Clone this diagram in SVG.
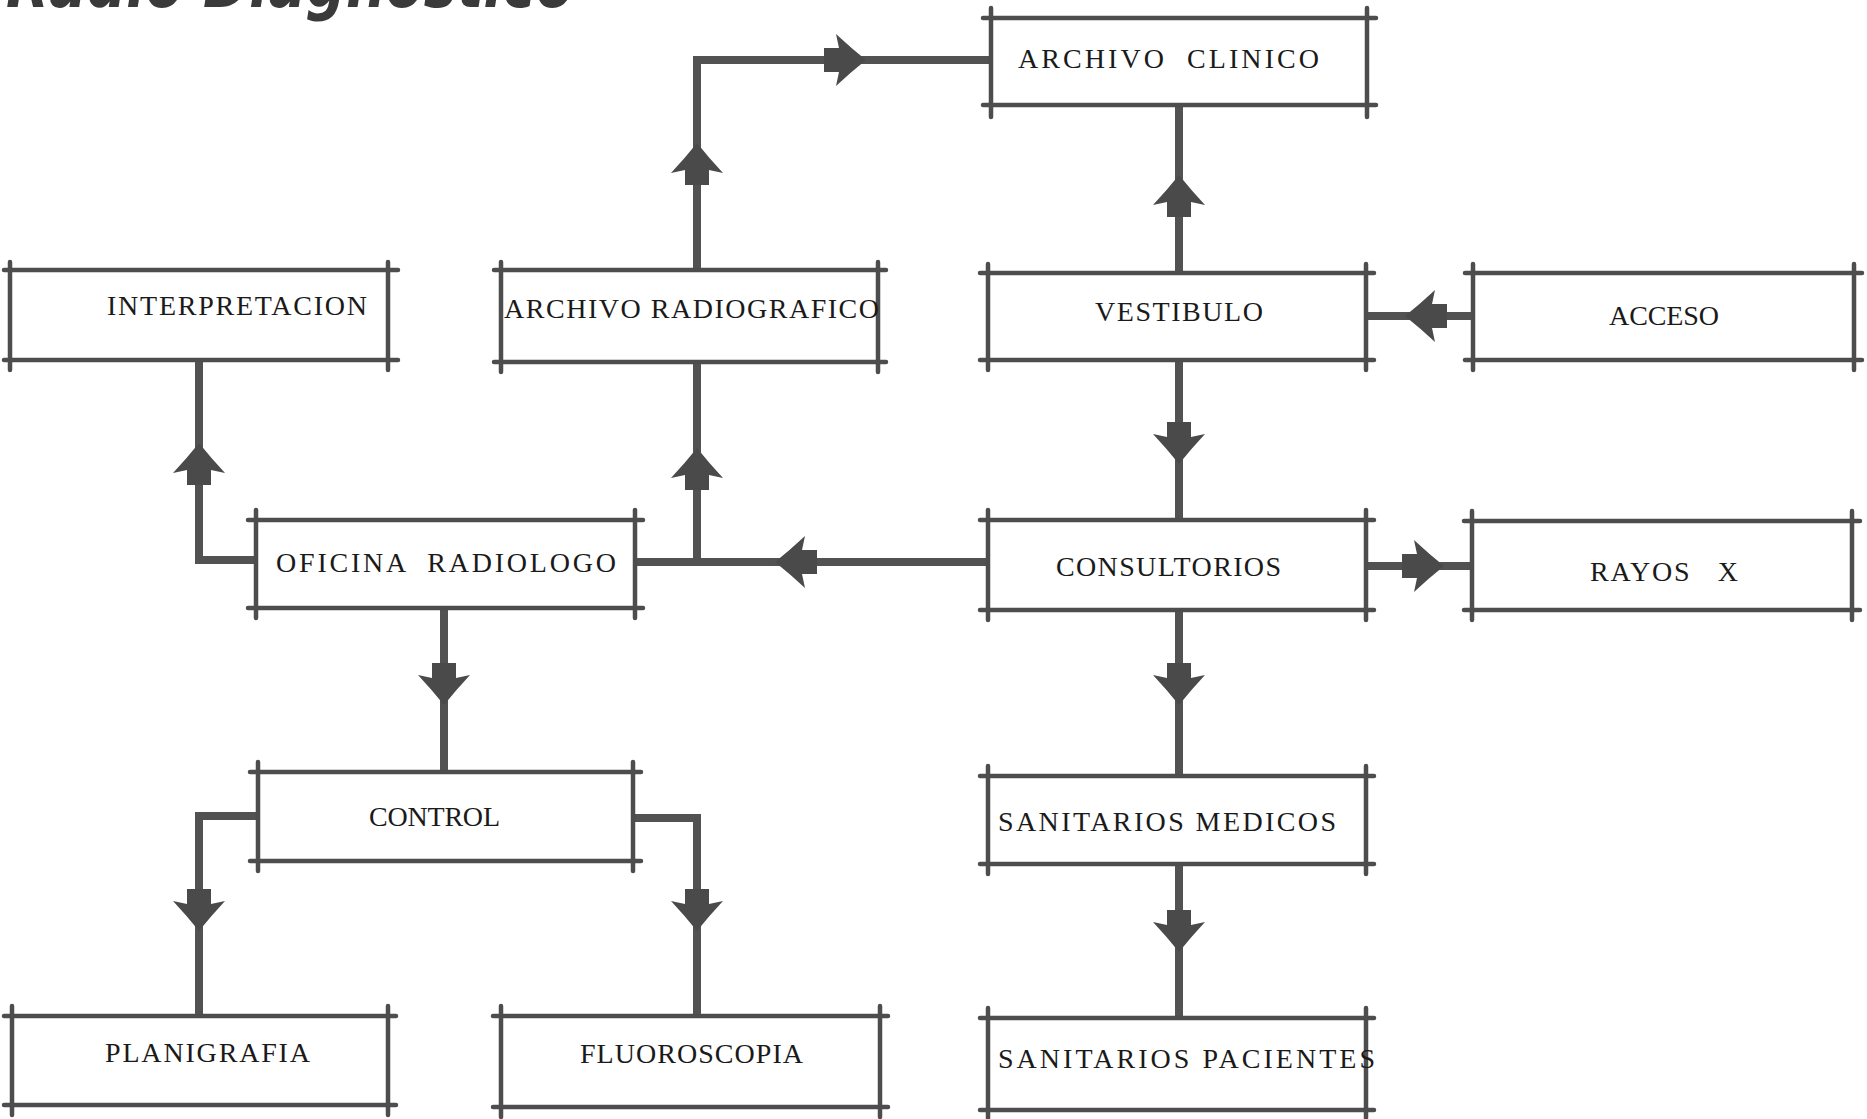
<svg xmlns="http://www.w3.org/2000/svg" xmlns:xlink="http://www.w3.org/1999/xlink" width="1867" height="1119" viewBox="0 0 1867 1119">
<style>
.bl{stroke:#4d4d4d;stroke-width:4.5;stroke-linecap:round;fill:none}
.cn{stroke:#525252;stroke-width:8;fill:none;stroke-linejoin:miter}
.lb{font-family:"Liberation Serif","Times New Roman",serif;font-size:28px;fill:#1a1a1a}
.ttl{font-family:"DejaVu Sans","Liberation Sans",sans-serif;font-size:70px;font-weight:bold;font-style:italic;fill:#3a3a3a}
</style>
<defs>
<path id="ah" d="M0,0 Q-12,15 -26,30 L-12,27 L-12,42 L12,42 L12,27 L26,30 Q12,15 0,0 Z" fill="#4a4a4a"/>
</defs>
<rect width="1867" height="1119" fill="#ffffff"/>
<text class="ttl" x="6" y="7" textLength="568" lengthAdjust="spacingAndGlyphs">Radio Diagnostico</text>

<g id="connectors">
<path class="cn" d="M256,560 H199 V360"/>
<path class="cn" d="M988,562 H635"/>
<path class="cn" d="M697,562 V362"/>
<path class="cn" d="M697,270 V60 H991"/>
<path class="cn" d="M1179,273 V105"/>
<path class="cn" d="M1473,316 H1366"/>
<path class="cn" d="M1179,360 V520"/>
<path class="cn" d="M1366,566 H1472"/>
<path class="cn" d="M1179,610 V776"/>
<path class="cn" d="M1179,864 V1018"/>
<path class="cn" d="M444,608 V772"/>
<path class="cn" d="M258,816 H199 V1016"/>
<path class="cn" d="M633,818 H697 V1016"/>
<use xlink:href="#ah" transform="translate(199,443)"/>
<use xlink:href="#ah" transform="translate(697,448)"/>
<use xlink:href="#ah" transform="translate(697,143)"/>
<use xlink:href="#ah" transform="translate(866,60) rotate(90)"/>
<use xlink:href="#ah" transform="translate(1179,175)"/>
<use xlink:href="#ah" transform="translate(1405,316) rotate(-90)"/>
<use xlink:href="#ah" transform="translate(1179,464) rotate(180)"/>
<use xlink:href="#ah" transform="translate(775,562) rotate(-90)"/>
<use xlink:href="#ah" transform="translate(1444,566) rotate(90)"/>
<use xlink:href="#ah" transform="translate(1179,705) rotate(180)"/>
<use xlink:href="#ah" transform="translate(1179,952) rotate(180)"/>
<use xlink:href="#ah" transform="translate(444,705) rotate(180)"/>
<use xlink:href="#ah" transform="translate(199,931) rotate(180)"/>
<use xlink:href="#ah" transform="translate(697,931) rotate(180)"/>
</g>

<g id="archivo-clinico">
<path class="bl" d="M983,18 H1376 M983,105 H1376 M991,8 V117 M1367,8 V117"/>
<text class="lb" x="1018" y="68" textLength="301" lengthAdjust="spacing" xml:space="preserve">ARCHIVO  CLINICO</text>
</g>
<g id="interpretacion">
<path class="bl" d="M4,270 H398 M4,360 H398 M10,262 V370 M388,262 V370"/>
<text class="lb" x="107" y="315" textLength="260" lengthAdjust="spacing">INTERPRETACION</text>
</g>
<g id="archivo-radiografico">
<path class="bl" d="M494,270 H886 M494,362 H886 M501,262 V372 M878,262 V372"/>
<text class="lb" x="504" y="318" textLength="375" lengthAdjust="spacing">ARCHIVO RADIOGRAFICO</text>
</g>
<g id="vestibulo">
<path class="bl" d="M980,273 H1374 M980,360 H1374 M988,264 V370 M1366,264 V370"/>
<text class="lb" x="1095" y="321" textLength="168" lengthAdjust="spacing">VESTIBULO</text>
</g>
<g id="acceso">
<path class="bl" d="M1465,273 H1862 M1465,360 H1862 M1473,264 V370 M1854,264 V370"/>
<text class="lb" x="1609" y="325" textLength="110" lengthAdjust="spacing">ACCESO</text>
</g>
<g id="oficina-radiologo">
<path class="bl" d="M248,520 H643 M248,608 H643 M256,510 V618 M635,510 V618"/>
<text class="lb" x="276" y="572" textLength="340" lengthAdjust="spacing" xml:space="preserve">OFICINA  RADIOLOGO</text>
</g>
<g id="consultorios">
<path class="bl" d="M980,520 H1374 M980,610 H1374 M988,510 V620 M1366,510 V620"/>
<text class="lb" x="1056" y="576" textLength="225" lengthAdjust="spacing">CONSULTORIOS</text>
</g>
<g id="rayos-x">
<path class="bl" d="M1464,521 H1860 M1464,610 H1860 M1472,511 V620 M1852,511 V620"/>
<text class="lb" x="1590" y="581" textLength="148" lengthAdjust="spacing" xml:space="preserve">RAYOS   X</text>
</g>
<g id="control">
<path class="bl" d="M250,772 H641 M250,861 H641 M258,762 V871 M633,762 V871"/>
<text class="lb" x="369" y="826" textLength="131" lengthAdjust="spacing">CONTROL</text>
</g>
<g id="sanitarios-medicos">
<path class="bl" d="M980,776 H1374 M980,864 H1374 M988,766 V874 M1366,766 V874"/>
<text class="lb" x="998" y="831" textLength="338" lengthAdjust="spacing">SANITARIOS MEDICOS</text>
</g>
<g id="planigrafia">
<path class="bl" d="M4,1016 H396 M4,1105 H396 M12,1006 V1115 M388,1006 V1115"/>
<text class="lb" x="105" y="1062" textLength="205" lengthAdjust="spacing">PLANIGRAFIA</text>
</g>
<g id="fluoroscopia">
<path class="bl" d="M493,1016 H888 M493,1107 H888 M501,1006 V1117 M880,1006 V1117"/>
<text class="lb" x="580" y="1063" textLength="223" lengthAdjust="spacing">FLUOROSCOPIA</text>
</g>
<g id="sanitarios-pacientes">
<path class="bl" d="M980,1018 H1374 M980,1110 H1374 M988,1008 V1118 M1366,1008 V1118"/>
<text class="lb" x="998" y="1068" textLength="377" lengthAdjust="spacing">SANITARIOS PACIENTES</text>
</g>
</svg>
